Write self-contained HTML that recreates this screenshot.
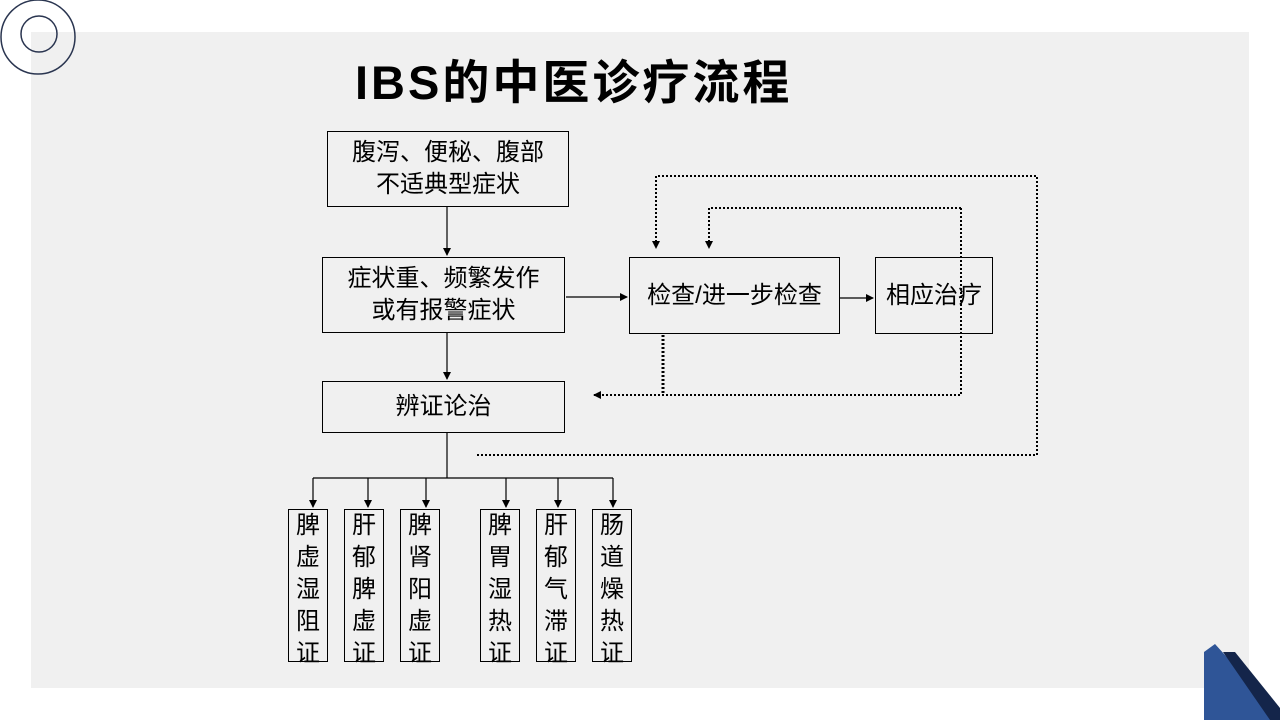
<!DOCTYPE html><html><head><meta charset="utf-8"><style>
body{margin:0;width:1280px;height:720px;position:relative;background:#fff;overflow:hidden;font-family:"Liberation Sans","Noto Sans CJK SC",sans-serif}
.b{position:absolute;border:1.3px solid #000;box-sizing:border-box;display:flex;align-items:center;justify-content:center;text-align:center;font-size:24px;line-height:32px;color:#000}
.v{display:block;padding-top:0;line-height:32px;white-space:nowrap}
</style></head><body>
<div style="position:absolute;left:31px;top:32px;width:1218px;height:656px;background:#f0f0f0"></div>
<svg style="position:absolute;left:0;top:0" width="1280" height="720">
<defs><marker id="a" markerWidth="8" markerHeight="8" refX="7" refY="4" orient="auto" markerUnits="userSpaceOnUse"><path d="M0,0L8,4L0,8z"/></marker></defs>
<circle cx="38" cy="37" r="37" fill="none" stroke="#2a3550" stroke-width="1.5"/>
<circle cx="39" cy="34" r="18" fill="none" stroke="#2a3550" stroke-width="1.5"/>
<g stroke="#000" stroke-width="1.2" fill="none">
<line x1="447" y1="206" x2="447" y2="255" marker-end="url(#a)"/>
<line x1="447" y1="332" x2="447" y2="379" marker-end="url(#a)"/>
<line x1="566" y1="297" x2="627" y2="297" marker-end="url(#a)"/>
<line x1="839" y1="298" x2="873" y2="298" marker-end="url(#a)"/>
<line x1="447" y1="432" x2="447" y2="478"/>
<line x1="313" y1="478" x2="613" y2="478"/>
<line x1="313" y1="478" x2="313" y2="507" marker-end="url(#a)"/>
<line x1="368" y1="478" x2="368" y2="507" marker-end="url(#a)"/>
<line x1="426" y1="478" x2="426" y2="507" marker-end="url(#a)"/>
<line x1="506" y1="478" x2="506" y2="507" marker-end="url(#a)"/>
<line x1="558" y1="478" x2="558" y2="507" marker-end="url(#a)"/>
<line x1="613" y1="478" x2="613" y2="507" marker-end="url(#a)"/>
</g>
<g stroke="#000" stroke-width="2" fill="none" stroke-dasharray="2,2">
<polyline points="477,455 1037,455 1037,176 656,176 656,248" marker-end="url(#a)"/>
<polyline points="961,208 709,208 709,248" marker-end="url(#a)"/>
<polyline points="961,208 961,395 594,395" marker-end="url(#a)"/>
<line x1="663" y1="335" x2="663" y2="395" stroke-width="3"/>
</g>
<polygon points="1204,652 1215,644 1280,716 1280,720 1204,720" fill="#2f5597"/>
<polygon points="1223,652 1235,652 1280,708 1280,720 1270,720" fill="#14254a"/>
</svg>
<div style="position:absolute;left:355px;top:54px;font-size:47px;font-weight:bold;line-height:58px;letter-spacing:3px">IBS的中医诊疗流程</div>
<div class="b" style="left:327px;top:131px;width:242px;height:76px">腹泻、便秘、腹部<br>不适典型症状</div>
<div class="b" style="left:322px;top:257px;width:243px;height:76px">症状重、频繁发作<br>或有报警症状</div>
<div class="b" style="left:322px;top:381px;width:243px;height:52px">辨证论治</div>
<div class="b" style="left:629px;top:257px;width:211px;height:77px">检查/进一步检查</div>
<div class="b" style="left:875px;top:257px;width:118px;height:77px">相应治疗</div>
<div class="b v" style="left:288px;top:509px;width:40px;height:153px">脾<br>虚<br>湿<br>阻<br>证</div>
<div class="b v" style="left:344px;top:509px;width:40px;height:153px">肝<br>郁<br>脾<br>虚<br>证</div>
<div class="b v" style="left:400px;top:509px;width:40px;height:153px">脾<br>肾<br>阳<br>虚<br>证</div>
<div class="b v" style="left:480px;top:509px;width:40px;height:153px">脾<br>胃<br>湿<br>热<br>证</div>
<div class="b v" style="left:536px;top:509px;width:40px;height:153px">肝<br>郁<br>气<br>滞<br>证</div>
<div class="b v" style="left:592px;top:509px;width:40px;height:153px">肠<br>道<br>燥<br>热<br>证</div>
</body></html>
